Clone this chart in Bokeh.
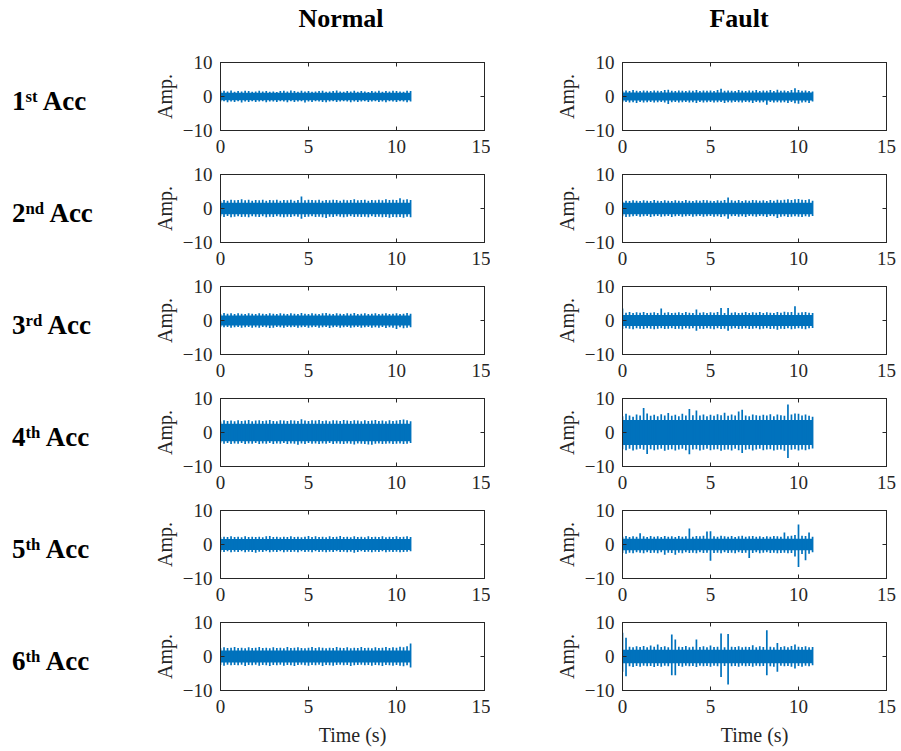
from bokeh.plotting import figure
from bokeh.models import Range1d, FixedTicker, LinearAxis, Div
from bokeh.layouts import column, row
from bokeh.embed import file_html
from bokeh.resources import INLINE

# sample times (s) at which the signal envelope was read
T = [0.0, 0.2, 0.4, 0.6, 0.8, 1.0, 1.2, 1.4, 1.6, 1.8, 2.0,
     2.2, 2.4, 2.6, 2.8, 3.0, 3.2, 3.4, 3.6, 3.8, 4.0, 4.2,
     4.4, 4.6, 4.8, 5.0, 5.2, 5.4, 5.6, 5.8, 6.0, 6.2, 6.4,
     6.6, 6.8, 7.0, 7.2, 7.4, 7.6, 7.8, 8.0, 8.2, 8.4, 8.6,
     8.8, 9.0, 9.2, 9.4, 9.6, 9.8, 10.0, 10.2, 10.4, 10.6, 10.8]

COLUMN_TITLES = ["Normal", "Fault"]
ROW_ORD = [("1", "st"), ("2", "nd"), ("3", "rd"), ("4", "th"), ("5", "th"), ("6", "th")]
X_TICKS = [0, 5, 10, 15]
Y_TICKS = [-10, 0, 10]

# dense core half-width of each trace
CORE_N = [1.1, 1.7, 1.5, 2.6, 1.6, 1.8]
CORE_F = [1.2, 1.7, 1.6, 3.7, 1.7, 2.0]

# ---- 1st Acc ----
N1_HI = [1.6,1.7,1.5,1.8,1.4, 1.6,1.5,1.7,1.6,1.4, 1.5,1.7,1.5,1.6,1.4, 1.5,1.3,1.6,1.7,1.5,
         1.8,1.6,1.4,1.7,1.5, 1.6,1.4,1.5,1.6,1.7, 1.4,1.5,1.6,1.8,1.5, 1.4,1.6,1.5,1.7,1.4,
         1.6,1.5,1.3,1.6,1.5, 1.7,1.4,1.6,1.5,1.7, 1.6,1.5,1.4,1.7,1.6]
N1_LO = [-1.5,-1.4,-1.7,-1.5,-1.6, -1.4,-1.8,-1.5,-1.6,-1.4, -1.6,-1.5,-1.4,-1.7,-1.5, -1.5,-1.6,-1.4,-1.5,-1.7,
         -1.4,-1.6,-1.5,-1.4,-1.8, -1.5,-1.6,-1.4,-1.5,-1.6, -1.7,-1.5,-1.4,-1.6,-1.5, -1.4,-1.5,-1.7,-1.5,-1.6,
         -1.5,-1.4,-1.6,-1.5,-1.4, -1.6,-1.5,-1.7,-1.4,-1.5, -1.6,-1.4,-1.5,-1.7,-1.5]
F1_HI = [1.7,1.8,1.6,1.9,1.7, 1.6,1.8,1.7,1.6,1.8, 1.7,1.6,1.9,2.0,1.7, 1.6,1.8,1.7,1.6,1.8,
         1.7,1.9,1.6,1.8,1.7, 1.8,1.6,1.9,2.3,1.7, 1.8,1.7,1.6,1.9,1.7, 1.6,1.8,1.7,1.9,1.6,
         1.8,1.7,1.9,1.6,2.0, 1.7,1.8,1.6,1.9,2.4, 1.9,1.7,1.8,1.6,1.5]
F1_LO = [-1.7,-1.6,-1.8,-1.7,-1.9, -1.6,-1.8,-1.7,-1.6,-1.8, -1.7,-1.6,-1.8,-2.2,-1.7, -1.6,-1.8,-1.7,-1.6,-1.8,
         -1.7,-1.9,-1.6,-1.8,-1.7, -1.6,-1.8,-1.7,-1.6,-1.9, -1.7,-1.8,-1.6,-1.7,-1.8, -1.6,-1.7,-1.9,-1.6,-1.8,
         -1.7,-2.4,-1.6,-1.8,-1.7, -1.8,-1.7,-1.9,-1.6,-2.0, -2.1,-1.8,-1.7,-1.9,-1.5]

# ---- 2nd Acc ----
N2_HI = [2.2,2.5,2.3,2.6,2.4, 2.5,2.7,2.4,2.6,2.3, 2.5,2.4,2.6,2.3,2.5, 2.4,2.6,2.3,2.5,2.4,
         2.6,2.3,2.5,3.5,2.4, 2.6,2.5,2.4,2.6,2.3, 2.5,2.4,2.6,2.5,2.3, 2.6,2.4,2.5,2.7,2.4,
         2.5,2.6,2.3,2.5,2.4, 2.6,2.4,2.7,2.5,2.6, 2.5,3.0,2.6,2.7,2.5]
N2_LO = [-2.3,-2.5,-2.2,-2.6,-2.4, -2.3,-2.5,-2.4,-2.6,-2.3, -2.4,-2.5,-2.3,-2.6,-2.4, -2.5,-2.3,-2.4,-2.6,-2.4,
         -2.5,-2.3,-2.4,-3.0,-2.5, -2.4,-2.3,-2.5,-2.4,-2.6, -2.8,-2.4,-2.5,-2.3,-2.4, -2.6,-2.4,-2.3,-2.5,-2.4,
         -2.5,-2.4,-2.6,-2.3,-2.5, -2.4,-2.6,-2.5,-2.7,-2.5, -2.6,-2.5,-2.7,-2.4,-2.6]
F2_HI = [2.0,2.3,2.2,2.4,2.3, 2.2,2.4,2.3,2.2,2.5, 2.3,2.2,2.4,2.3,2.2, 2.4,2.3,2.2,2.5,2.3,
         2.2,2.4,2.3,2.5,2.4, 2.3,2.2,2.4,2.3,2.5, 3.2,2.4,2.3,2.5,2.2, 2.4,2.3,2.5,2.4,2.3,
         2.4,2.2,2.5,2.3,2.6, 2.4,2.6,2.7,2.5,2.7, 2.8,2.6,2.5,2.7,2.3]
F2_LO = [-2.3,-2.5,-2.4,-2.3,-2.2, -2.4,-2.3,-2.2,-2.5,-2.3, -2.2,-2.4,-2.3,-2.2,-2.5, -2.3,-2.2,-2.4,-2.3,-2.2,
         -2.4,-2.3,-2.2,-2.4,-2.3, -2.2,-2.4,-2.3,-2.5,-2.3, -3.0,-2.3,-2.2,-2.4,-2.3, -2.5,-2.2,-2.3,-2.4,-2.2,
         -2.3,-2.5,-2.2,-2.3,-2.8, -2.4,-2.3,-2.5,-2.4,-2.3, -2.4,-2.5,-2.3,-2.4,-2.2]

# ---- 3rd Acc ----
N3_HI = [1.9,2.2,2.0,2.1,1.9, 2.1,2.0,1.9,2.1,2.0, 1.9,2.1,2.0,1.9,2.1, 2.0,1.9,2.1,2.0,1.9,
         2.1,2.0,1.9,2.2,2.0, 1.9,2.1,2.0,1.9,2.1, 2.2,2.0,1.9,2.1,2.0, 1.9,2.1,2.0,2.2,1.9,
         2.0,2.1,1.9,2.0,2.1, 1.9,2.0,2.1,1.9,2.0, 2.1,1.9,2.0,2.2,2.0]
N3_LO = [-1.9,-2.0,-1.9,-2.1,-2.0, -1.9,-2.1,-2.0,-1.9,-2.1, -2.0,-2.1,-1.9,-2.0,-2.2, -2.1,-1.9,-2.0,-2.1,-1.9,
         -2.0,-1.9,-2.1,-2.0,-1.9, -2.1,-2.0,-1.9,-2.1,-2.0, -1.9,-2.2,-2.0,-1.9,-2.1, -2.0,-1.9,-2.1,-2.0,-1.9,
         -2.1,-2.0,-1.9,-2.1,-2.0, -2.1,-1.9,-2.2,-2.0,-2.1, -2.5,-2.0,-2.3,-2.1,-2.0]
F3_HI = [3.5,2.3,2.5,2.2,2.4, 2.3,2.5,2.2,2.3,2.4, 2.2,3.5,2.3,2.4,2.2, 2.3,2.4,2.2,2.5,2.3,
         2.2,3.2,2.3,2.4,2.2, 2.4,2.3,2.5,3.7,2.2, 3.7,2.3,2.4,2.2,2.3, 2.5,2.2,2.4,2.3,2.5,
         2.2,2.4,2.3,2.2,2.5, 2.3,2.6,2.4,2.5,4.2, 2.3,2.4,2.5,2.3,2.2]
F3_LO = [-2.5,-2.3,-2.4,-2.6,-2.3, -2.4,-2.5,-2.3,-2.4,-2.6, -2.4,-2.3,-2.5,-2.4,-2.3, -2.5,-2.4,-2.6,-2.3,-2.4,
         -2.3,-3.0,-2.4,-2.5,-2.3, -2.4,-2.6,-2.3,-2.5,-2.4, -3.0,-2.4,-2.3,-2.5,-2.4, -2.3,-2.5,-2.4,-2.3,-2.6,
         -2.4,-2.3,-2.5,-2.4,-2.7, -2.4,-2.5,-2.3,-2.6,-2.4, -2.3,-2.4,-2.6,-2.3,-2.2]

# ---- 4th Acc ----
N4_HI = [3.2,3.6,3.4,3.5,3.3, 3.6,3.4,3.5,3.7,3.3, 3.5,3.6,3.4,3.5,3.7, 3.4,3.3,3.6,3.5,3.4,
         3.6,3.5,3.4,3.9,3.5, 3.4,3.6,3.5,3.7,3.4, 3.5,3.3,3.6,3.5,3.4, 3.7,3.5,3.4,3.6,3.5,
         3.3,3.6,3.4,3.5,3.7, 3.4,3.5,3.3,3.6,3.4, 3.5,3.7,3.8,3.6,3.3]
N4_LO = [-3.0,-3.3,-3.1,-3.4,-3.2, -3.3,-3.1,-3.4,-3.2,-3.3, -3.1,-3.4,-3.2,-3.3,-3.1, -3.4,-3.2,-3.3,-3.1,-3.4,
         -3.2,-3.3,-3.6,-3.2,-3.4, -3.1,-3.3,-3.2,-3.4,-3.2, -3.3,-3.1,-3.4,-3.2,-3.3, -3.4,-3.2,-3.3,-3.5,-3.2,
         -3.3,-3.4,-3.5,-3.6,-3.3, -3.2,-3.4,-3.3,-3.2,-3.4, -3.3,-3.2,-3.4,-3.3,-3.1]
F4_HI = [4.8,5.5,5.0,4.6,5.3, 5.0,7.2,5.6,4.9,5.2, 4.8,5.4,5.0,5.7,4.9, 5.2,4.8,5.5,5.0,6.9,
         5.1,6.5,5.0,5.3,4.8, 5.2,4.9,5.4,5.1,5.8, 4.9,5.3,5.0,6.2,6.7, 5.0,4.8,5.3,5.1,4.9,
         5.2,5.0,5.4,4.8,5.3, 5.1,4.9,8.2,5.3,5.6, 5.5,5.0,5.3,4.9,4.6]
F4_LO = [-4.9,-5.2,-4.8,-5.3,-5.0, -4.8,-5.1,-6.3,-4.9,-5.2, -5.0,-4.8,-5.4,-5.1,-4.9, -5.3,-5.0,-4.8,-5.2,-6.4,
         -5.0,-4.9,-5.3,-5.1,-4.8, -5.2,-5.0,-4.9,-5.4,-5.1, -5.0,-5.3,-4.8,-5.2,-6.0, -5.1,-4.9,-5.3,-5.0,-4.8,
         -5.2,-5.0,-4.9,-5.3,-5.1, -5.0,-5.4,-7.5,-5.1,-4.9, -5.3,-5.0,-5.2,-4.9,-4.7]

# ---- 5th Acc ----
N5_HI = [2.1,2.3,2.2,2.4,2.2, 2.3,2.1,2.4,2.2,2.3, 2.2,2.3,2.1,2.4,2.5, 2.2,2.3,2.1,2.3,2.2,
         2.4,2.2,2.3,2.1,2.3, 2.5,2.2,2.4,2.2,2.3, 2.1,2.4,2.2,2.3,2.5, 2.2,2.3,2.1,2.4,2.2,
         2.3,2.1,2.4,2.2,2.3, 2.2,2.4,2.1,2.3,2.2, 2.4,2.2,2.3,2.4,2.2]
N5_LO = [-2.1,-2.2,-2.0,-2.3,-2.1, -2.2,-2.0,-2.3,-2.1,-2.2, -2.4,-2.1,-2.2,-2.0,-2.3, -2.1,-2.2,-2.0,-2.3,-2.1,
         -2.2,-2.1,-2.3,-2.0,-2.2, -2.1,-2.3,-2.0,-2.2,-2.1, -2.3,-2.1,-2.2,-2.0,-2.2, -2.1,-2.3,-2.1,-2.4,-2.2,
         -2.0,-2.2,-2.1,-2.3,-2.1, -2.2,-2.0,-2.3,-2.1,-2.2, -2.1,-2.3,-2.2,-2.1,-2.0]
F5_HI = [2.3,2.5,2.2,2.4,2.3, 3.3,2.4,2.2,2.5,2.3, 2.4,2.2,2.5,2.3,2.4, 2.2,2.5,2.3,2.4,4.7,
         2.3,2.5,2.4,2.6,3.8, 3.9,2.4,2.3,2.6,2.4, 2.3,2.5,2.2,2.4,2.6, 2.3,2.4,2.5,2.3,2.4,
         2.2,2.4,2.3,2.5,2.4, 2.3,3.5,2.4,2.6,2.8, 5.9,2.6,2.5,3.5,2.3]
F5_LO = [-2.5,-2.7,-2.4,-2.6,-2.3, -2.4,-2.6,-2.3,-2.5,-2.4, -2.6,-2.3,-3.0,-2.4,-2.5, -3.0,-2.4,-2.6,-2.3,-2.5,
         -2.4,-2.6,-2.3,-2.5,-2.4, -4.8,-2.5,-2.4,-2.6,-2.3, -2.5,-2.4,-2.6,-2.3,-2.5, -2.4,-4.0,-2.5,-2.3,-2.6,
         -2.4,-2.3,-2.5,-2.4,-2.6, -2.5,-2.4,-2.6,-2.5,-3.5, -6.6,-2.8,-4.6,-2.7,-2.3]

# ---- 6th Acc ----
N6_HI = [2.4,2.7,2.5,2.6,2.8, 2.5,2.6,2.4,2.7,2.5, 2.6,2.8,2.5,2.6,2.4, 2.7,2.5,2.6,2.4,2.8,
         2.5,2.6,2.7,2.5,2.4, 2.6,2.8,2.5,2.7,2.6, 2.4,2.6,2.5,2.8,2.6, 2.5,2.7,2.4,2.6,2.5,
         2.8,2.5,2.6,2.4,2.7, 2.5,2.6,2.8,2.5,2.7, 2.6,2.9,2.7,3.0,3.8]
N6_LO = [-2.5,-2.7,-2.4,-2.6,-2.5, -2.6,-2.4,-2.8,-2.5,-2.6, -2.4,-2.7,-2.5,-2.6,-2.8, -2.5,-2.6,-2.4,-2.7,-2.5,
         -2.6,-2.8,-2.5,-2.4,-2.6, -2.7,-2.5,-2.6,-2.4,-2.8, -2.5,-2.6,-2.7,-2.5,-2.4, -2.6,-2.5,-2.8,-2.6,-2.5,
         -2.4,-2.6,-2.5,-2.7,-2.5, -2.6,-2.8,-2.5,-2.6,-2.7, -2.5,-2.7,-2.9,-2.6,-3.2]
F6_HI = [7.0,5.5,2.9,2.7,3.0, 2.8,3.1,2.7,3.2,2.9, 3.5,2.8,3.0,2.7,6.5, 5.0,2.9,2.8,3.1,2.7,
         2.9,5.0,2.8,3.0,2.7, 3.2,2.8,2.9,6.8,2.7, 6.6,2.9,2.8,3.0,2.7, 2.9,2.8,3.3,2.7,3.0,
         2.8,7.7,2.9,2.7,4.0, 2.8,3.0,2.7,3.1,3.5, 2.9,2.8,3.0,2.7,2.8]
F6_LO = [-4.5,-5.8,-2.9,-3.1,-2.8, -3.0,-2.7,-2.9,-2.8,-3.1, -2.8,-3.0,-2.7,-2.9,-5.5, -5.5,-2.8,-3.0,-2.7,-2.9,
         -2.8,-3.1,-2.7,-2.9,-2.8, -3.0,-2.7,-2.9,-6.0,-2.8, -8.2,-2.9,-2.8,-3.0,-2.7, -2.9,-2.8,-3.0,-2.7,-2.9,
         -2.8,-5.5,-2.9,-3.0,-4.5, -2.7,-2.9,-2.8,-3.0,-3.5, -2.8,-3.0,-2.7,-2.9,-2.6]

NORMAL = [(N1_HI, N1_LO), (N2_HI, N2_LO), (N3_HI, N3_LO), (N4_HI, N4_LO), (N5_HI, N5_LO), (N6_HI, N6_LO)]
FAULT = [(F1_HI, F1_LO), (F2_HI, F2_LO), (F3_HI, F3_LO), (F4_HI, F4_LO), (F5_HI, F5_LO), (F6_HI, F6_LO)]

FONT = "Liberation Serif"
AX = "#262626"
BLUE = "#0072BD"


def style_axis(ax, ticks, show_labels=True, standoff=8):
    ax.ticker = FixedTicker(ticks=ticks)
    ax.minor_tick_line_color = None
    ax.major_tick_in = 4
    ax.major_tick_out = 0
    ax.axis_line_color = AX
    ax.major_tick_line_color = AX
    ax.major_label_text_font = FONT
    ax.major_label_text_font_style = "normal"
    ax.axis_label_text_font = FONT
    ax.axis_label_text_font_style = "normal"
    ax.axis_label_text_font_size = "20px"
    ax.axis_label_text_color = AX
    if show_labels:
        ax.major_label_text_color = AX
        ax.major_label_text_font_size = "19px"
        ax.major_label_standoff = standoff
    else:
        ax.major_label_text_color = None
        ax.major_label_text_font_size = "1px"
        ax.major_label_standoff = 0


def make_fig(hi, lo, core, left_col, last):
    p = figure(width=340 if left_col else 411, height=140 if last else 112,
               x_range=Range1d(0, 15), y_range=Range1d(-10, 10),
               output_backend="svg", toolbar_location=None,
               min_border_left=68 if left_col else 132,
               min_border_right=6 if left_col else 15,
               min_border_top=12, min_border_bottom=60 if last else 32)
    p.grid.visible = False
    p.outline_line_color = AX
    p.outline_line_alpha = 1.0
    p.background_fill_color = "white"
    p.border_fill_color = "white"
    p.varea(x=[T[0], T[-1]], y1=[-core, -core], y2=[core, core], fill_color=BLUE)
    p.segment(x0=T, y0=lo, x1=T, y1=hi, line_color=BLUE, line_width=1.7)
    style_axis(p.xaxis[0], X_TICKS, standoff=9)
    style_axis(p.yaxis[0], Y_TICKS, standoff=8)
    p.yaxis[0].axis_label = "Amp."
    p.yaxis[0].axis_label_standoff = 4
    if last:
        p.xaxis[0].axis_label = "Time (s)"
        p.xaxis[0].axis_label_standoff = 8
    top = LinearAxis()
    style_axis(top, X_TICKS, show_labels=False)
    p.add_layout(top, "above")
    right = LinearAxis()
    style_axis(right, Y_TICKS, show_labels=False)
    p.add_layout(right, "right")
    return p


header = Div(
    text=("<div style=\"position:relative;width:901px;height:50px;font-family:'Liberation Serif';"
          "font-weight:bold;font-size:26px;line-height:26px;color:#000\">"
          f"<div style=\"position:absolute;left:341px;top:6px;transform:translateX(-50%);white-space:nowrap\">{COLUMN_TITLES[0]}</div>"
          f"<div style=\"position:absolute;left:739px;top:6px;transform:translateX(-50%);white-space:nowrap\">{COLUMN_TITLES[1]}</div>"
          "</div>"),
    width=901, height=50, margin=0)

rows = [header]
for i in range(6):
    last = (i == 5)
    h = 140 if last else 112
    num, suf = ROW_ORD[i]
    lab = Div(
        text=(f"<div style=\"position:relative;width:150px;height:{h}px\">"
              "<div style=\"position:absolute;left:12px;top:38px;white-space:nowrap;"
              "font-family:'Liberation Serif';font-weight:bold;font-size:27px;line-height:27px;color:#000\">"
              f"{num}<span style=\"position:relative;top:-0.45em;font-size:62%\">{suf}</span> Acc</div></div>"),
        width=150, height=h, margin=0)
    fl = make_fig(NORMAL[i][0], NORMAL[i][1], CORE_N[i], True, last)
    fr = make_fig(FAULT[i][0], FAULT[i][1], CORE_F[i], False, last)
    rows.append(row(lab, fl, fr, spacing=0))

layout = column(*rows, spacing=0)
open("out.html", "w").write(file_html(layout, INLINE))
